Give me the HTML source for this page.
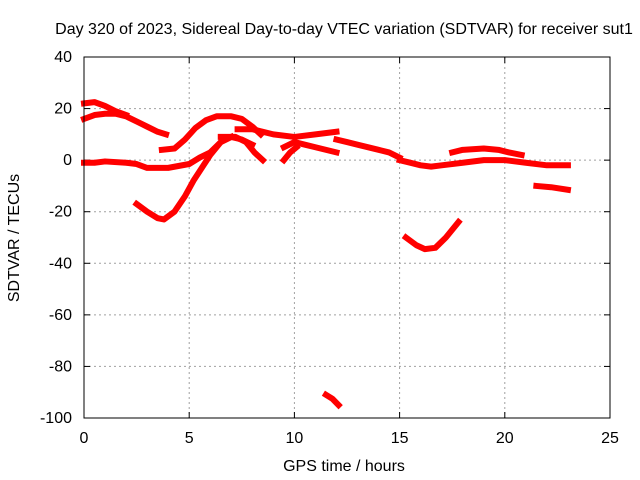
<!DOCTYPE html>
<html><head><meta charset="utf-8"><style>
body{margin:0;background:#fff;}
svg{display:block;font-family:"Liberation Sans",sans-serif;font-size:16px;}
</style></head><body>
<svg width="640" height="480">
<text x="344" y="34" text-anchor="middle">Day 320 of 2023, Sidereal Day-to-day VTEC variation (SDTVAR) for receiver sut1</text>
<g id="grid"></g>
<g id="axes"></g>
<g id="series"></g>
<rect x="84" y="57" width="526" height="361" fill="none" stroke="#000"/>
<text x="344" y="471" text-anchor="middle">GPS time / hours</text>
<text transform="translate(19,238) rotate(-90)" text-anchor="middle">SDTVAR / TECUs</text>
</svg>
<script>
const xTicks=[0,5,10,15,20,25];
const yTicks=[40,20,0,-20,-40,-60,-80,-100];
const track1=[[0,16],[0.5,17.5],[1,18],[1.5,18],[2,17],[2.5,15],[3,13],[3.5,11],[3.9,10]];
const track2=[[0,22],[0.5,22.5],[1,21],[1.5,19],[2,17.5]];
const track3=[[0,-1],[0.5,-1],[1,-0.5],[2,-1],[2.5,-1.5],[3,-3],[4,-3],[5,-1.5],[5.5,1],[6,3],[6.5,7],[7,9],[7.5,8],[8,6]];
const track4=[[2.5,-17],[3,-20],[3.5,-22.5],[3.8,-23],[4.3,-20],[4.8,-14],[5.2,-8],[5.6,-3],[6,2],[6.5,7],[7,9]];
const track5=[[3.7,4],[4.3,4.5],[4.8,8],[5.3,12.5],[5.8,15.5],[6.3,17],[7,17],[7.5,16],[8,13],[8.4,10]];
const track6=[[6.5,9],[7.2,9],[7.7,7],[8.1,3],[8.5,0]];
const track7=[[7.3,12],[8,12],[9,10],[10,9],[11,10],[12,11]];
const track8=[[9.5,5],[10,7],[10.5,6],[11,5],[12,3]];
const track9=[[9.5,0],[9.8,3],[10.1,5]];
const track10=[[12,8],[12.5,7],[13,6],[14,4],[14.5,3],[15,1]];
const track11=[[15,0],[15.5,-1],[16,-2],[16.5,-2.5],[17,-2],[18,-1],[19,0],[20,0],[21,-1],[22,-2],[23,-2]];
const track12=[[17.5,3],[18,4],[19,4.5],[19.7,4],[20.2,3],[20.8,2]];
const track13=[[21.5,-10],[22.2,-10.5],[23,-11.5]];
const track14=[[15.3,-30],[15.8,-33],[16.2,-34.5],[16.7,-34],[17.2,-30],[17.8,-24]];
const track15=[[11.5,-91],[11.8,-92.5],[12.1,-95]];
const tracks=[track1,track2,track3,track4,track5,track6,track7,track8,track9,track10,track11,track12,track13,track14,track15];
const X=v=>84+v*526/25, Y=v=>57+(40-v)*361/140;
const NS="http://www.w3.org/2000/svg";
const grid=document.getElementById('grid'),axes=document.getElementById('axes'),ser=document.getElementById('series');
function mk(tag,attrs,parent){const e=document.createElementNS(NS,tag);for(const k in attrs)e.setAttribute(k,attrs[k]);parent.appendChild(e);return e;}
xTicks.forEach(t=>{
 const g=mk('line',{x1:X(t),x2:X(t),y1:57,y2:418,stroke:'#a0a0a0','stroke-dasharray':'2,3'},grid);
 
 
 mk('line',{x1:X(t),x2:X(t),y1:418,y2:412,stroke:'#000'},axes);
 mk('line',{x1:X(t),x2:X(t),y1:57,y2:63,stroke:'#000'},axes);
 const l=mk('text',{x:X(t),y:443,'text-anchor':'middle'},axes);l.textContent=t;
 
 
});
yTicks.forEach(t=>{
 const g=mk('line',{x1:84,x2:610,y1:Y(t),y2:Y(t),stroke:'#a0a0a0','stroke-dasharray':'2,3'},grid);
 
 
 mk('line',{x1:84,x2:90,y1:Y(t),y2:Y(t),stroke:'#000'},axes);
 mk('line',{x1:610,x2:604,y1:Y(t),y2:Y(t),stroke:'#000'},axes);
 const l=mk('text',{x:72,y:Y(t)+5,'text-anchor':'end'},axes);l.textContent=t;
 
 
});
tracks.forEach(tr=>{
 const p=mk('polyline',{points:tr.map(d=>X(d[0])+','+Y(d[1])).join(' '),fill:'none',stroke:'#ff0000','stroke-width':6,'stroke-linejoin':'round','stroke-linecap':'square'},ser);
 
 
});
</script>
</body></html>
